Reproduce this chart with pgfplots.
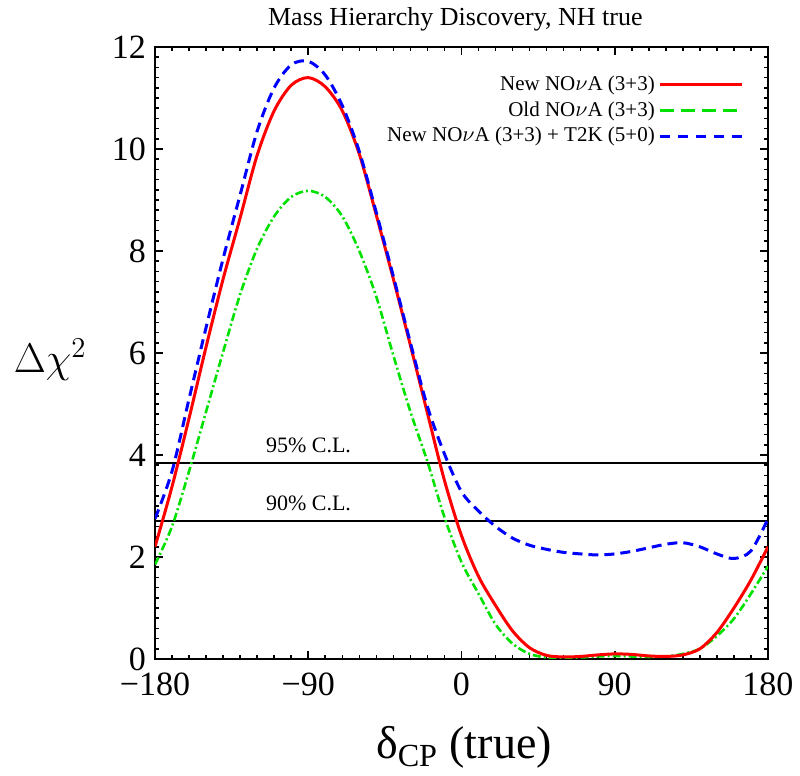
\documentclass[border=0pt]{standalone}
\usepackage{fontspec}
\setmainfont{Liberation Serif}
\usepackage{pgfplots}
\pgfplotsset{compat=1.18}
\definecolor{cred}{RGB}{255,0,0}
\definecolor{cgreen}{RGB}{0,225,0}
\definecolor{cblue}{RGB}{0,0,255}
\begin{document}
\begin{tikzpicture}
\useasboundingbox (-77.5pt,-58.5pt) rectangle (322.5pt,329.5pt);
\begin{axis}[
  at={(0pt,0pt)}, anchor=south west,
  scale only axis, width=306.5pt, height=306pt,
  xmin=-180, xmax=180, ymin=0, ymax=12,
  xtick={-180,-90,0,90,180}, xticklabels={−180,−90,0,90,180},
  ytick={0,2,4,6,8,10,12},
  minor x tick num=8, minor y tick num=9,
  tick align=inside, major tick length=4pt, minor tick length=2pt,
  every tick/.style={black, line width=0.8pt},
  axis line style={line width=1pt},
  tick label style={font=\fontsize{17}{17}\selectfont},
  /pgf/number format/assume math mode=true,
  xticklabel style={yshift=-3.5pt},
  yticklabel style={xshift=-1pt},
  title={Mass Hierarchy Discovery, NH true},
  title style={at={(0.49,1)}, anchor=center, yshift=8pt, font=\fontsize{13}{13}\selectfont},
  ylabel={$\Delta\chi^2$},
  ylabel style={rotate=-90, font=\fontsize{22}{22}\selectfont, at={(axis description cs:-0.171,0.489)}, anchor=center},
  xlabel={δ\textsubscript{CP} (true)},
  xlabel style={font=\fontsize{23}{23}\selectfont, at={(axis description cs:0.504,-0.145)}, anchor=center},
  legend style={draw=none, fill=none, at={(0.971,0.966)}, anchor=north east, font=\fontsize{10.5}{12.5}\selectfont, row sep=0pt},
  legend cell align=right,
  legend plot pos=right,
  legend image code/.code={\draw[#1] (0pt,0pt) -- (41pt,0pt);},
]
\addlegendimage{cred, line width=1.5pt}
\addlegendentry{New NO$\nu$A (3+3)}
\addlegendimage{cgreen, line width=1.5pt, dash pattern=on 7pt off 3.5pt}
\addlegendentry{Old NO$\nu$A (3+3)}
\addlegendimage{cblue, line width=1.5pt, dash pattern=on 5pt off 4pt}
\addlegendentry{New NO$\nu$A (3+3) + T2K (5+0)}

\addplot[black, line width=1pt, forget plot] coordinates {(-180,3.84) (180,3.84)};
\addplot[black, line width=1pt, forget plot] coordinates {(-180,2.71) (180,2.71)};
\node[anchor=south west, font=\fontsize{11}{11}\selectfont, inner sep=0pt] at (axis cs:-115,3.84) [yshift=5pt] {95\% C.L.};
\node[anchor=south west, font=\fontsize{11}{11}\selectfont, inner sep=0pt] at (axis cs:-115,2.71) [yshift=5pt] {90\% C.L.};

% Old NOvA (green)
\addplot[cgreen, line width=1.3pt, dash pattern=on 4pt off 1.5pt on 1pt off 1.5pt, smooth, forget plot] coordinates {
(-180,1.85) (-170,2.6) (-160,3.68) (-150,4.85) (-140,6.02) (-130,7.15) (-120,8.05)
(-110,8.68) (-100,9.06) (-90,9.18) (-80,9.06) (-70,8.68) (-60,8.0) (-50,7.1)
(-40,5.95) (-30,4.85) (-20,3.87) (-10,2.78) (0,1.9) (10,1.28) (20,0.68) (30,0.3)
(40,0.1) (50,0.03) (60,0.02) (70,0.03) (80,0.05) (90,0.06) (100,0.05) (110,0.04)
(120,0.05) (130,0.1) (140,0.2) (150,0.45) (160,0.79) (170,1.28) (180,1.82)
};
% New NOvA (red)
\addplot[cred, line width=1.5pt, smooth, forget plot] coordinates {
(-180,2.2) (-170,3.38) (-160,4.72) (-150,6.12) (-140,7.45) (-130,8.65) (-120,9.88)
(-110,10.75) (-100,11.25) (-90,11.4) (-80,11.22) (-70,10.75) (-60,9.9) (-50,8.7)
(-40,7.45) (-30,6.15) (-20,4.82) (-10,3.5) (0,2.42) (10,1.62) (20,1.05) (30,0.55)
(40,0.22) (50,0.07) (60,0.04) (70,0.05) (80,0.08) (90,0.1) (100,0.09) (110,0.06)
(120,0.05) (130,0.08) (140,0.2) (150,0.52) (160,1.0) (170,1.55) (180,2.2)
};
% New NOvA + T2K (blue)
\addplot[cblue, line width=1.5pt, dash pattern=on 5pt off 3pt, smooth, forget plot] coordinates {
(-180,2.75) (-170,3.68) (-160,5.1) (-150,6.5) (-140,7.85) (-130,9.1) (-120,10.35)
(-110,11.2) (-100,11.65) (-90,11.72) (-80,11.45) (-70,10.85) (-60,9.95) (-50,8.75)
(-40,7.5) (-30,6.2) (-20,4.95) (-10,4.02) (0,3.28) (10,2.9) (20,2.6) (30,2.37)
(40,2.23) (50,2.15) (60,2.09) (70,2.06) (80,2.04) (90,2.06) (100,2.11) (110,2.18)
(120,2.25) (130,2.28) (140,2.2) (150,2.06) (160,1.97) (170,2.12) (180,2.75)
};
\end{axis}
\end{tikzpicture}
\end{document}
